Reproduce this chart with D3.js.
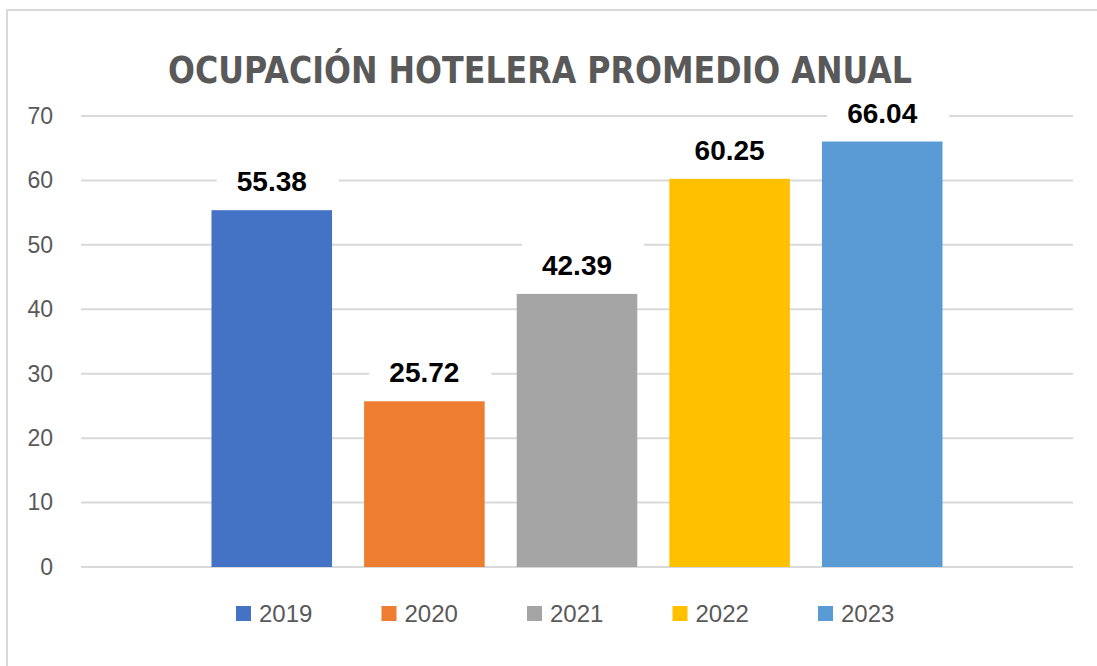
<!DOCTYPE html>
<html>
<head>
<meta charset="utf-8">
<script src="https://cdn.jsdelivr.net/npm/d3@7"></script>
<style>
  html, body { margin: 0; padding: 0; background: #fff; }
  svg { display: block; }
</style>
</head>
<body>
<div id="chart"></div>
<script>
var years = ["2019", "2020", "2021", "2022", "2023"];
var values = [55.38, 25.72, 42.39, 60.25, 66.04];
var colors = ["#4472C4", "#ED7D31", "#A5A5A5", "#FFC000", "#5B9BD5"];
var yTicks = [0, 10, 20, 30, 40, 50, 60, 70];
var title = "OCUPACIÓN HOTELERA PROMEDIO ANUAL";

var W = 1097, H = 666;
var plot = {left: 81, right: 1073, top: 116, bottom: 567};

var svg = d3.select("#chart").append("svg")
    .attr("width", W).attr("height", H);

// chart frame (only top and left edges are inside the picture)
svg.append("rect")
    .attr("x", 7).attr("y", 10)
    .attr("width", W + 20).attr("height", H + 20)
    .attr("fill", "#fff")
    .attr("stroke", "#D9D9D9")
    .attr("stroke-width", 2);

var x = d3.scaleBand()
    .domain(years)
    .range([plot.left, plot.right])
    .paddingInner(0.21)
    .paddingOuter(0.855);

var y = d3.scaleLinear()
    .domain([0, 70])
    .range([plot.bottom, plot.top]);

var color = d3.scaleOrdinal().domain(years).range(colors);

// gridlines
svg.append("g")
    .selectAll("line")
    .data(yTicks)
    .enter().append("line")
    .attr("x1", plot.left)
    .attr("x2", plot.right)
    .attr("y1", function(d) { return y(d); })
    .attr("y2", function(d) { return y(d); })
    .attr("stroke", "#D9D9D9")
    .attr("stroke-width", 2);

// y axis labels
var yAxis = svg.append("g")
    .attr("transform", "translate(" + 53 + ",0)")
    .call(d3.axisLeft(y).tickValues(yTicks).tickSize(0).tickPadding(0));
yAxis.select(".domain").remove();
yAxis.selectAll("text")
    .attr("fill", "#595959")
    .attr("font-family", "'Liberation Sans', Arial, sans-serif")
    .attr("font-size", 23);

var data = years.map(function(yr, i) { return {year: yr, value: values[i]}; });

// bars
svg.append("g")
    .selectAll("rect")
    .data(data)
    .enter().append("rect")
    .attr("x", function(d) { return x(d.year); })
    .attr("y", function(d) { return y(d.value); })
    .attr("width", x.bandwidth())
    .attr("height", function(d) { return y(0) - y(d.value); })
    .attr("fill", function(d) { return color(d.year); });

// value labels with white box behind
var lab = svg.append("g")
    .selectAll("g")
    .data(data)
    .enter().append("g")
    .attr("transform", function(d) {
        return "translate(" + (x(d.year) + x.bandwidth() / 2) + "," + (y(d.value) - 19) + ")";
    });

lab.append("rect")
    .attr("x", -55).attr("y", -34)
    .attr("width", 122).attr("height", 44)
    .attr("fill", "#fff");

lab.append("text")
    .attr("text-anchor", "middle")
    .attr("font-family", "'Liberation Sans', Arial, sans-serif")
    .attr("font-weight", "bold")
    .attr("font-size", 28)
    .attr("fill", "#000")
    .text(function(d) { return d3.format(".2f")(d.value); });

// title
svg.append("text")
    .attr("x", 540).attr("y", 83)
    .attr("text-anchor", "middle")
    .attr("font-family", "'DejaVu Sans', sans-serif")
    .attr("font-weight", "bold")
    .attr("font-size", 37)
    .attr("fill", "#595959")
    .attr("textLength", 744)
    .attr("lengthAdjust", "spacingAndGlyphs")
    .text(title);

// legend
var legend = svg.append("g")
    .selectAll("g")
    .data(years)
    .enter().append("g")
    .attr("transform", function(d, i) { return "translate(" + (236 + i * 145.5) + ",606)"; });

legend.append("rect")
    .attr("width", 15).attr("height", 15)
    .attr("fill", function(d) { return color(d); });

legend.append("text")
    .attr("x", 23).attr("y", 16)
    .attr("font-family", "'Liberation Sans', Arial, sans-serif")
    .attr("font-size", 24)
    .attr("fill", "#595959")
    .text(function(d) { return d; });
</script>
</body>
</html>
